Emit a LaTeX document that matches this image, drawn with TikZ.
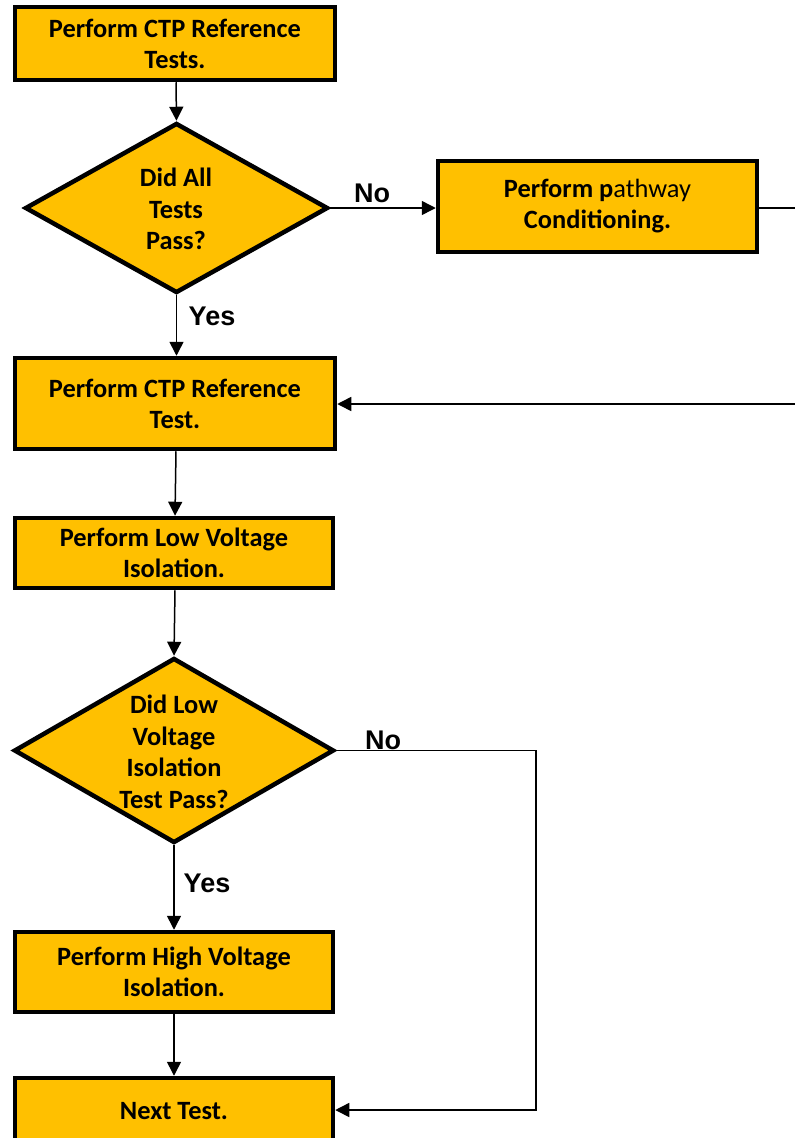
\documentclass[tikz,border=0pt]{standalone}
\usepackage{fontspec}
\setmainfont{Carlito}
\newfontfamily\lblfont{Liberation Sans}
\usetikzlibrary{shapes.geometric,arrows.meta}
\definecolor{gold}{HTML}{FFC000}
\begin{document}
\begin{tikzpicture}[x=1pt,y=-1pt,
  box/.style={draw=black,line width=4.5pt,fill=gold,rectangle,inner sep=0pt,align=center,
    font=\fontsize{26.4}{31}\selectfont\bfseries},
  dec/.style={draw=black,line width=4.5pt,fill=gold,diamond,inner sep=0pt,shape aspect=1},
  dtext/.style={align=center,font=\fontsize{26.4}{31.5}\selectfont\bfseries,inner sep=0pt},
  conn/.style={line width=1.5pt,-{Triangle[length=14pt,width=14pt]}},
  plain/.style={line width=1.5pt},
  lbl/.style={font=\lblfont\fontsize{27}{30}\selectfont\bfseries,inner sep=0pt}]
\useasboundingbox (0,0) rectangle (795,1138);
% boxes
\node[box,minimum width=320pt,minimum height=73pt] (b1) at (175,43.5) {Perform CTP Reference\\Tests.};
\node[dec,minimum width=303pt,minimum height=170pt] (d1) at (176.5,208) {};
\node[dtext] (d1t) at (176,209) {Did All\\Tests\\Pass?};
\node[box,minimum width=319pt,minimum height=91pt] (b2) at (597.5,206.5) {Perform p{\mdseries athway}\\Conditioning.};
\node[box,minimum width=320pt,minimum height=91pt] (b3) at (175,403.5) {Perform CTP Reference\\Test.};
\node[box,minimum width=318pt,minimum height=70pt] (b4) at (174,553) {Perform Low Voltage\\Isolation.};
\node[dec,minimum width=320pt,minimum height=185pt] (d2) at (174,750.5) {};
\node[dtext] (d2t) at (174,752) {Did Low\\Voltage\\Isolation\\Test Pass?};
\node[box,minimum width=318pt,minimum height=80pt] (b5) at (174,972) {Perform High Voltage\\Isolation.};
\node[box,minimum width=318pt,minimum height=66pt] (b6) at (174,1111) {Next Test.};
% coordinates
\coordinate (e1) at (797,208);
\coordinate (e2) at (797,404);
\coordinate (c2) at (536,750.5);
\coordinate (c3) at (536,1110);
% connectors
\draw[conn] (b1.south -| 176,0) -- (d1.north);
\draw[conn] (d1.east) -- (b2.west |- d1.east);
\draw[plain] (b2.east |- e1) -- (e1);
\draw[conn] (e2) -- (b3.east |- e2);
\draw[conn] (d1.south) -- (b3.north -| d1.south);
\draw[conn] (b3.south -| 176,0) -- (b4.north -| 175,0);
\draw[conn] (b4.south -| 175,0) -- (d2.north);
\draw[conn] (d2.south) -- (b5.north);
\draw[conn] (b5.south) -- (b6.north);
\draw[conn] (d2.east) -- (c2) -- (c3) -- (b6.east |- c3);
% labels
\node[lbl] (n1) at (372,193) {No};
\node[lbl] (y1) at (212,316) {Yes};
\node[lbl] (n2) at (383,740) {No};
\node[lbl] (y2) at (207,883) {Yes};
\end{tikzpicture}
\end{document}
